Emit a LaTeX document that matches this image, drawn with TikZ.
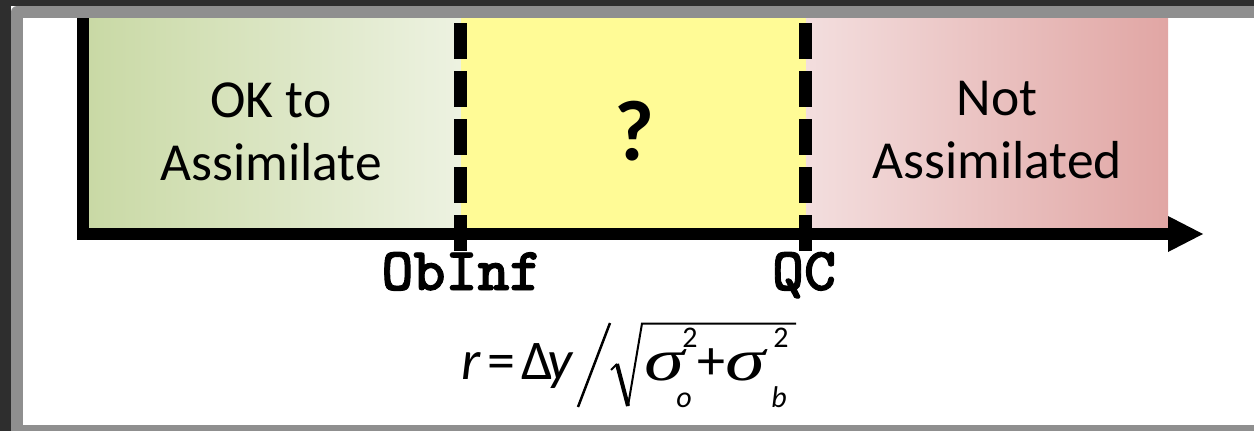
\documentclass[tikz,border=0pt]{standalone}
\usepackage{fontspec}
\newfontfamily\calfont{Carlito}
\newfontfamily\tmsfont{Liberation Serif}
\newfontfamily\courfont[FakeBold=1.5]{lmmonolt10-bold.otf}
\definecolor{darkframe}{HTML}{2E2E2E}
\definecolor{greyframe}{HTML}{8F8F8F}
\definecolor{greenL}{HTML}{C9D9A5}
\definecolor{greenR}{HTML}{EDF2E1}
\definecolor{yellowfill}{HTML}{FFFB96}
\definecolor{pinkL}{HTML}{F3DEDE}
\definecolor{pinkR}{HTML}{E1A6A4}
\begin{document}
\begin{tikzpicture}[x=1pt,y=-1pt,
  lbl/.style={inner sep=0pt,anchor=base,font=\calfont\fontsize{53.5}{63}\selectfont},
  ticklbl/.style={inner sep=0pt,anchor=base,font=\courfont\fontsize{61}{63}\selectfont},
  mth/.style={inner sep=0pt,anchor=base,font=\calfont\fontsize{56}{60}\selectfont},
  mthit/.style={inner sep=0pt,anchor=base,font=\calfont\itshape\fontsize{56}{60}\selectfont},
  sig/.style={inner sep=0pt,anchor=base,font=\tmsfont\itshape\fontsize{60}{64}\selectfont},
  scr/.style={inner sep=0pt,anchor=base,font=\calfont\fontsize{30}{32}\selectfont},
  scrit/.style={inner sep=0pt,anchor=base,font=\calfont\itshape\fontsize{30}{32}\selectfont},
  dashline/.style={line width=13pt,dash pattern=on 36pt off 12pt}]
\useasboundingbox (0,0) rectangle (1254,431);
% frame
\fill[white] (0,0) rectangle (1254,431);
\fill[darkframe] (0,0) rectangle (1254,6);
\fill[darkframe] (0,0) rectangle (11,431);
\fill[greyframe,rounded corners=6pt] (11,6) rectangle (1270,445);
\fill[white] (23,18) rectangle (1254,425);
% regions
\shade[left color=greenL,right color=greenR] (88,18) rectangle (461,228);
\fill[yellowfill] (461,18) rectangle (806,228);
\shade[left color=pinkL,right color=pinkR] (806,18) rectangle (1168,228);
% dashed thresholds
\coordinate (d1t) at (460.5,23);
\coordinate (d1b) at (460.5,251);
\coordinate (d2t) at (805.5,23);
\coordinate (d2b) at (805.5,251);
\draw[dashline] (d1t) -- (d1b);
\draw[dashline] (d2t) -- (d2b);
% axes
\coordinate (ytop) at (82.5,18);
\coordinate (orig) at (82.5,234);
\coordinate (xend) at (1169,234);
\draw[line width=12pt,miter limit=10] (ytop) -- (orig) -- (xend);
\fill (1168,216) -- (1203,234) -- (1168,252) -- cycle;
% labels
\node[lbl] (ok1) at (271,117) {OK to};
\node[lbl] (ok2) at (271,180) {Assimilate};
\node[inner sep=0pt,anchor=base,font=\calfont\bfseries\fontsize{86}{90}\selectfont] (q) at (634,160) {?};
\node[lbl] (no1) at (997,115) {Not};
\node[lbl] (no2) at (997,178) {Assimilated};
\node[ticklbl] (obinf) at (461.5,290) {ObInf};
\node[ticklbl] (qc) at (804,290) {QC};
% formula
\node[mthit] (fr) at (471,379) {r};
\node[mth] (feq) at (501.5,379) {=};
\node[mth] (fdel) at (537.5,379) {Δ};
\node[mthit] (fy) at (560,379) {y};
\coordinate (sl1) at (578,407);
\coordinate (sl2) at (610,323);
\draw[line width=2.5pt] (sl1) -- (sl2);
\coordinate (r1) at (611,370);
\coordinate (r2) at (617,364);
\coordinate (r3) at (628,406);
\coordinate (r4) at (642,323.5);
\coordinate (r5) at (796,323.5);
\draw[line width=2pt,line join=miter] (r1) -- (r2);
\draw[line width=4pt] (r2) -- (r3);
\draw[line width=2pt] (r3) -- (r4) -- (r5);
\node[sig] (s1) at (664,380) {\scalebox{1.35}[1]{σ}};
\node[scr] (s1sup) at (690,347) {2};
\node[scrit] (s1sub) at (684,407) {o};
\node[mth] (fplus) at (711,379) {+};
\node[sig] (s2) at (745,380) {\scalebox{1.35}[1]{σ}};
\node[scr] (s2sup) at (781,347) {2};
\node[scrit] (s2sub) at (779,407) {b};
\end{tikzpicture}
\end{document}
